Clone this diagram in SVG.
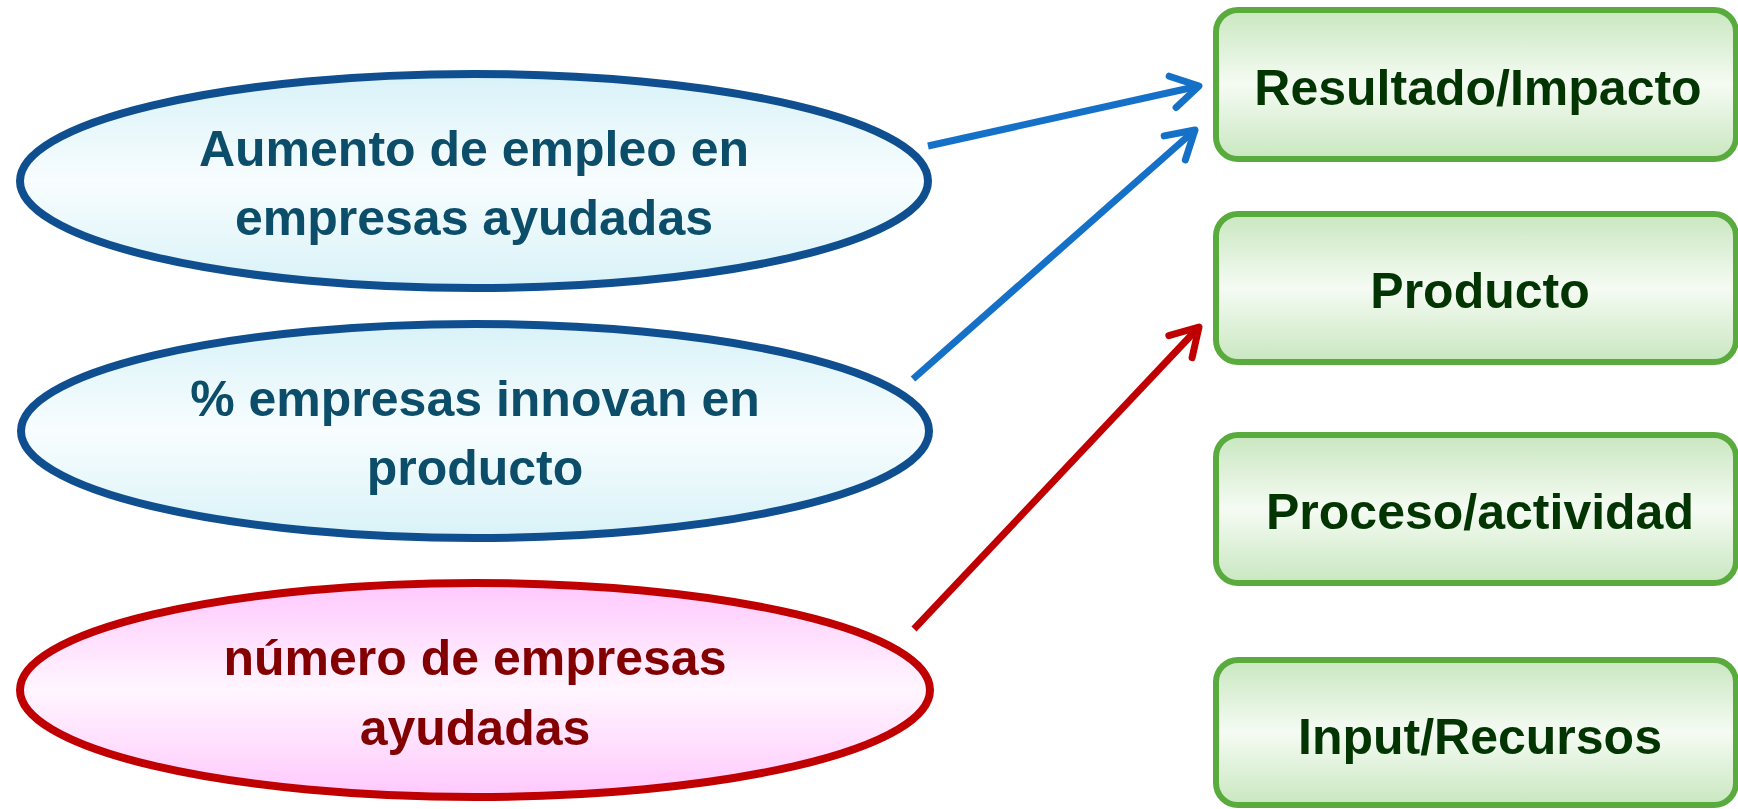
<svg xmlns="http://www.w3.org/2000/svg" width="1738" height="809" viewBox="0 0 1738 809">
  <style>
    .lbl { font-family: "Liberation Sans", Arial, sans-serif; font-weight: bold; font-size: 50px; text-anchor: middle; }
    .blueTxt { fill: #0c4d6a; }
    .redTxt { fill: #820000; }
    .greenTxt { fill: #033503; }
    .ellBlue { fill: url(#gBlue); stroke: #0f4f8f; stroke-width: 8; }
    .ellRed { fill: url(#gPink); stroke: #c00000; stroke-width: 8; }
    .box { fill: url(#gGreen); stroke: #5aab3e; stroke-width: 6; }
    .conn { fill: none; stroke-width: 7; stroke-linecap: butt; }
  </style>
  <defs>
    <linearGradient id="gBlue" x1="0" y1="0" x2="0" y2="1">
      <stop offset="0" stop-color="#d8f2f8"/>
      <stop offset="0.5" stop-color="#f8fdfe"/>
      <stop offset="1" stop-color="#d8f2f8"/>
    </linearGradient>
    <linearGradient id="gPink" x1="0" y1="0" x2="0" y2="1">
      <stop offset="0" stop-color="#ffc8fd"/>
      <stop offset="0.5" stop-color="#fff6ff"/>
      <stop offset="1" stop-color="#ffc8fd"/>
    </linearGradient>
    <linearGradient id="gGreen" x1="0" y1="0" x2="0" y2="1">
      <stop offset="0" stop-color="#c9e7c0"/>
      <stop offset="0.5" stop-color="#f5fbf3"/>
      <stop offset="1" stop-color="#c9e7c0"/>
    </linearGradient>
    <marker id="arrBlue" markerUnits="userSpaceOnUse" markerWidth="80" markerHeight="80" refX="0" refY="0" orient="auto" overflow="visible">
      <path d="M-27,-16 L0,0 L-27,16" fill="none" stroke="#1570c8" stroke-width="7" stroke-linecap="round" stroke-linejoin="round"/>
    </marker>
    <marker id="arrRed" markerUnits="userSpaceOnUse" markerWidth="80" markerHeight="80" refX="0" refY="0" orient="auto" overflow="visible">
      <path d="M-27,-16 L0,0 L-27,16" fill="none" stroke="#c00000" stroke-width="7" stroke-linecap="round" stroke-linejoin="round"/>
    </marker>
  </defs>

  <g id="node-aumento">
    <ellipse class="ellBlue" cx="474" cy="181" rx="454" ry="107"/>
    <text class="lbl blueTxt" x="474" y="166">Aumento de empleo en</text>
    <text class="lbl blueTxt" x="474" y="235">empresas ayudadas</text>
  </g>
  <g id="node-innovan">
    <ellipse class="ellBlue" cx="475" cy="431" rx="454" ry="107"/>
    <text class="lbl blueTxt" x="475" y="416">% empresas innovan en</text>
    <text class="lbl blueTxt" x="475" y="485">producto</text>
  </g>
  <g id="node-numero">
    <ellipse class="ellRed" cx="475" cy="690" rx="455" ry="107"/>
    <text class="lbl redTxt" x="475" y="675">número de empresas</text>
    <text class="lbl redTxt" x="475" y="745">ayudadas</text>
  </g>

  <g id="node-resultado">
    <rect class="box" x="1216" y="10" width="520" height="149" rx="22" ry="22"/>
    <text class="lbl greenTxt" x="1478" y="105">Resultado/Impacto</text>
  </g>
  <g id="node-producto">
    <rect class="box" x="1216" y="214" width="520" height="148" rx="22" ry="22"/>
    <text class="lbl greenTxt" x="1480" y="308">Producto</text>
  </g>
  <g id="node-proceso">
    <rect class="box" x="1216" y="435" width="520" height="148" rx="22" ry="22"/>
    <text class="lbl greenTxt" x="1480" y="529">Proceso/actividad</text>
  </g>
  <g id="node-input">
    <rect class="box" x="1216" y="660" width="520" height="145" rx="22" ry="22"/>
    <text class="lbl greenTxt" x="1480" y="754">Input/Recursos</text>
  </g>

  <g id="connectors">
    <line class="conn" x1="928" y1="146" x2="1199" y2="86" stroke="#1570c8" marker-end="url(#arrBlue)"/>
    <line class="conn" x1="913" y1="379" x2="1195" y2="130" stroke="#1570c8" marker-end="url(#arrBlue)"/>
    <line class="conn" x1="914" y1="629" x2="1199" y2="327" stroke="#c00000" marker-end="url(#arrRed)"/>
  </g>
</svg>
